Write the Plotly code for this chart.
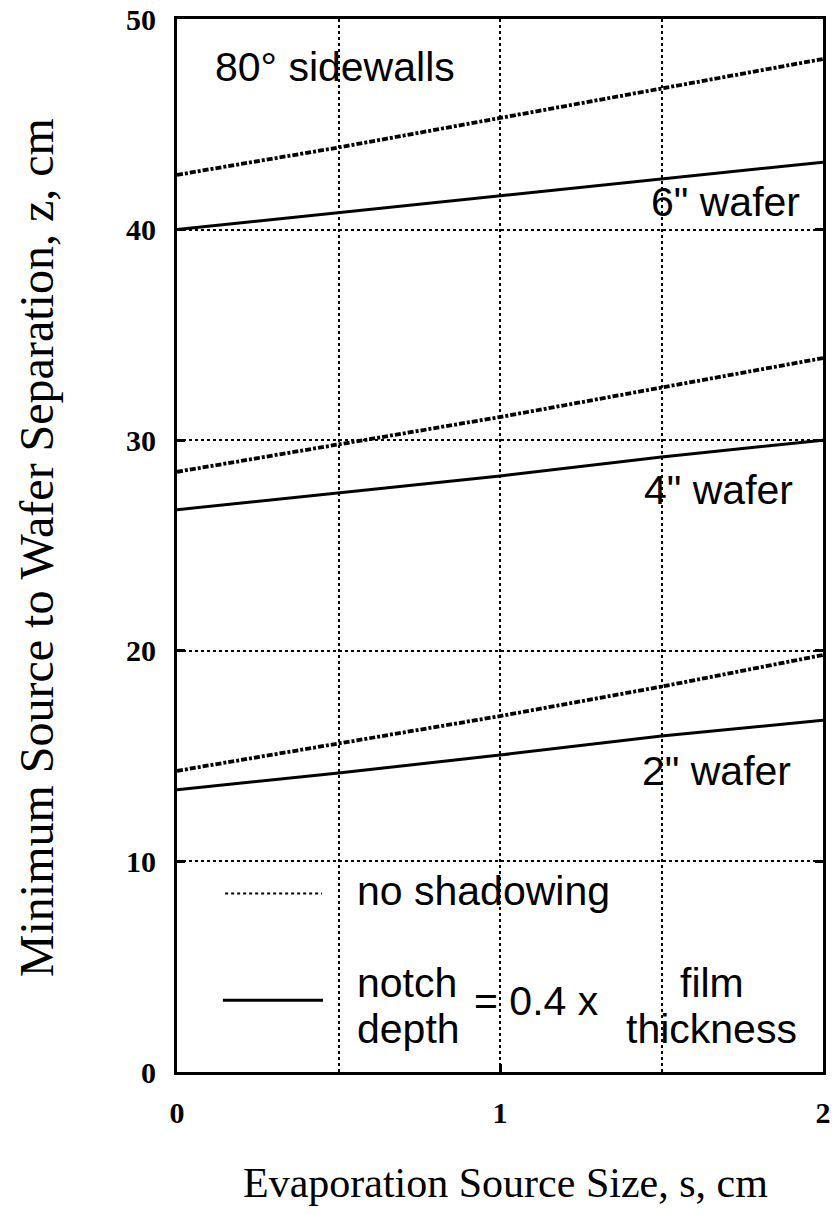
import plotly.graph_objects as go

# ---- data ----
source_size = [0, 0.5, 1.0, 1.5, 2.0]
six_no_shadow = [42.6, 43.9, 45.3, 46.7, 48.1]
six_notch = [40.0, 40.8, 41.6, 42.4, 43.2]
four_no_shadow = [28.5, 29.8, 31.1, 32.5, 33.9]
four_notch = [26.7, 27.5, 28.3, 29.2, 30.0]
two_no_shadow = [14.3, 15.6, 16.9, 18.3, 19.8]
two_notch = [13.4, 14.2, 15.05, 15.95, 16.7]

x_ticks = [0, 1, 2]
y_ticks = [0, 10, 20, 30, 40, 50]

SANS = "Liberation Sans, Arial, sans-serif"
SERIF = "Liberation Serif, Times New Roman, serif"
TXT = 41

fig = go.Figure()

dotted = dict(color="black", width=3.8, dash="6px,2px,3px,2px")
solid = dict(color="black", width=3)

for ys in (six_no_shadow, four_no_shadow, two_no_shadow):
    fig.add_trace(go.Scatter(x=source_size, y=ys, mode="lines", line=dotted,
                             showlegend=False, hoverinfo="skip"))
for ys in (six_notch, four_notch, two_notch):
    fig.add_trace(go.Scatter(x=source_size, y=ys, mode="lines", line=solid,
                             showlegend=False, hoverinfo="skip"))

annotations = [
    dict(text="80° sidewalls", x=0.111, y=47.74, xanchor="left", yanchor="middle"),
    dict(text='6" wafer', x=1.935, y=41.3, xanchor="right", yanchor="middle"),
    dict(text='4" wafer', x=1.913, y=27.63, xanchor="right", yanchor="middle"),
    dict(text='2" wafer', x=1.907, y=14.29, xanchor="right", yanchor="middle"),
    dict(text="no shadowing", x=0.551, y=8.61, xanchor="left", yanchor="middle"),
    dict(text="notch", x=0.551, y=4.25, xanchor="left", yanchor="middle"),
    dict(text="depth", x=0.551, y=2.05, xanchor="left", yanchor="middle"),
    dict(text="= 0.4 x", x=0.913, y=3.36, xanchor="left", yanchor="middle"),
    dict(text="film", x=1.656, y=4.25, xanchor="center", yanchor="middle"),
    dict(text="thickness", x=1.656, y=2.05, xanchor="center", yanchor="middle"),
]
for a in annotations:
    a.update(xref="x", yref="y", showarrow=False,
             font=dict(family=SANS, size=TXT, color="black"))

# axis titles
annotations.append(dict(text="Minimum Source to Wafer Separation, z, cm",
                        xref="paper", yref="paper", x=-0.218, y=0.4976,
                        xanchor="center", yanchor="middle", textangle=-90,
                        showarrow=False,
                        font=dict(family=SERIF, size=48, color="black")))
annotations.append(dict(text="Evaporation Source Size, s, cm",
                        xref="paper", yref="paper", x=0.508, y=-0.105,
                        xanchor="center", yanchor="middle", showarrow=False,
                        font=dict(family=SERIF, size=42, color="black")))

# legend samples
shapes = [
    dict(type="line", xref="x", yref="y", x0=0.149, x1=0.449, y0=8.47, y1=8.47,
         line=dict(color="black", width=2, dash="dot")),
    dict(type="line", xref="x", yref="y", x0=0.142, x1=0.452, y0=3.41, y1=3.41,
         line=dict(color="black", width=3)),
]

fig.update_layout(
    width=837, height=1215,
    margin=dict(l=177, r=14, t=19, b=143),
    paper_bgcolor="white", plot_bgcolor="white",
    annotations=annotations, shapes=shapes,
    showlegend=False,
)

tickfont = dict(family=SERIF, size=30, color="black", weight="bold")

fig.update_xaxes(
    range=[0, 2], tickvals=x_ticks, ticktext=[str(v) for v in x_ticks],
    showgrid=True, gridcolor="black", griddash="dot", gridwidth=1.5,
    minor=dict(dtick=0.5, showgrid=True, gridcolor="black", griddash="dot",
               gridwidth=1.5, ticks=""),
    showline=True, linecolor="black", linewidth=3, mirror=True,
    ticks="inside", ticklen=8, tickwidth=3, tickcolor="black",
    tickfont=tickfont, ticklabeloverflow="allow", automargin=False,
    ticklabelstandoff=12, zeroline=False, fixedrange=True,
)
fig.update_yaxes(
    range=[0, 50], tickvals=y_ticks, ticktext=[str(v) for v in y_ticks],
    showgrid=True, gridcolor="black", griddash="dot", gridwidth=1.5,
    showline=True, linecolor="black", linewidth=3, mirror="ticks",
    ticks="inside", ticklen=8, tickwidth=3, tickcolor="black",
    tickfont=tickfont, ticklabeloverflow="allow", automargin=False,
    ticklabelstandoff=12, zeroline=False, fixedrange=True,
)

fig.write_html(
    "out.html",
    config={"displayModeBar": False},
    post_script="document.body.style.margin='0';document.body.style.overflow='hidden';",
)
